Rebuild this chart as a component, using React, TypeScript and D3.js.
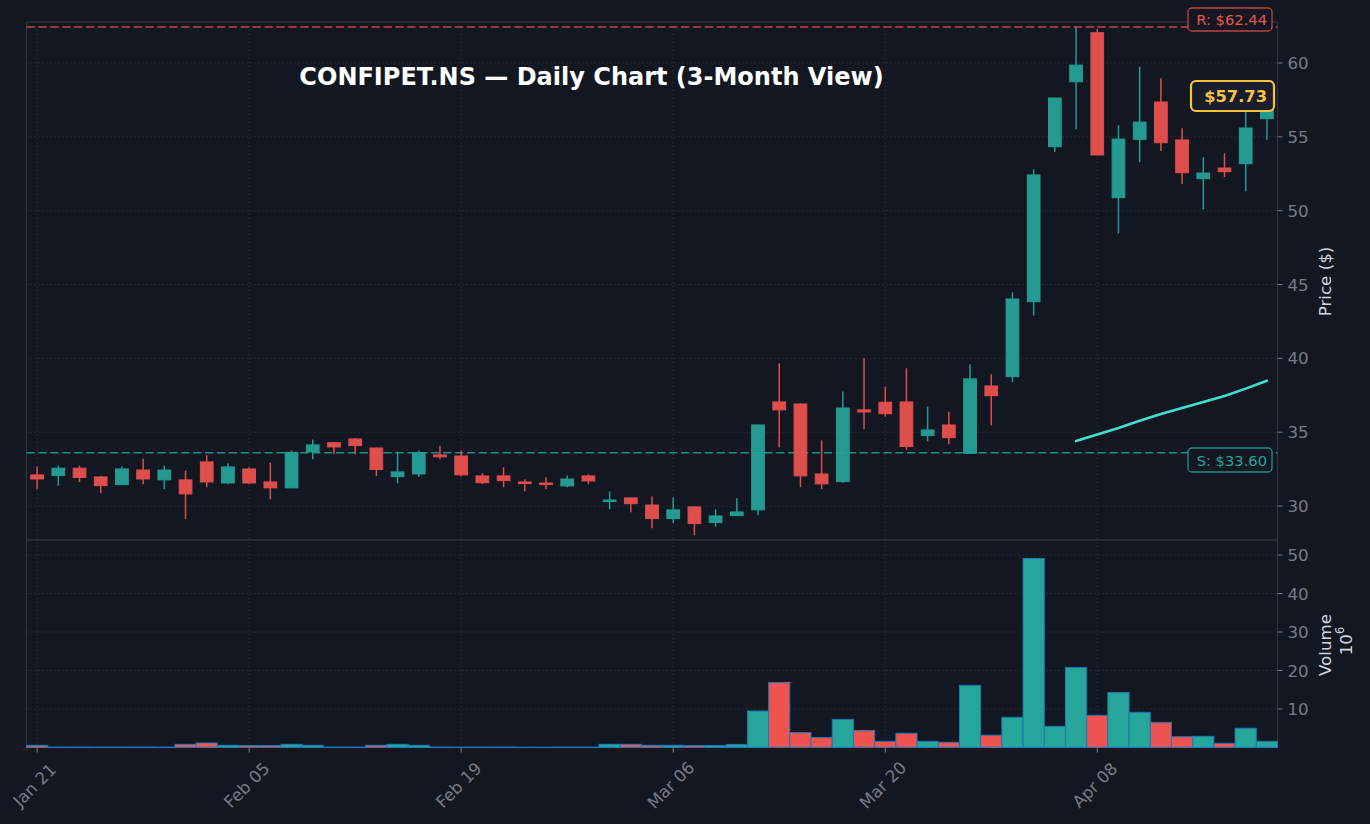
import React from "react";
import * as d3 from "d3";

const opens = [32.11, 32.06, 32.56, 31.97, 31.45, 32.44, 31.77, 31.77, 32.99, 31.56, 32.51, 31.63, 31.23, 33.66, 34.29, 34.54, 33.93, 31.99, 32.17, 33.46, 33.39, 32.04, 32.04, 31.63, 31.56, 31.36, 32.04, 30.30, 30.55, 30.07, 29.15, 29.94, 28.88, 29.35, 29.74, 37.05, 36.91, 32.17, 31.65, 36.51, 37.03, 37.05, 34.77, 35.49, 33.57, 38.13, 38.76, 43.84, 54.33, 58.73, 62.05, 50.88, 54.83, 57.36, 54.79, 52.17, 52.89, 53.18, 56.23];
const highs = [32.67, 32.74, 32.74, 32.04, 32.67, 33.21, 32.74, 32.40, 33.44, 32.90, 32.62, 32.94, 33.75, 34.50, 34.33, 34.60, 33.95, 33.69, 33.75, 34.09, 33.75, 32.22, 32.63, 31.81, 31.95, 32.06, 32.15, 30.98, 30.58, 30.64, 30.60, 29.96, 29.78, 30.53, 35.50, 39.67, 36.95, 34.45, 37.75, 40.00, 38.08, 39.33, 36.73, 36.39, 39.60, 38.92, 44.48, 52.80, 57.65, 62.46, 62.30, 55.78, 59.75, 58.96, 55.58, 53.62, 53.89, 56.70, 57.90];
const lows = [31.14, 31.38, 31.62, 30.87, 31.45, 31.48, 31.14, 29.11, 31.27, 31.48, 31.48, 30.46, 31.23, 33.17, 33.51, 33.51, 32.02, 31.54, 31.99, 33.17, 32.00, 31.48, 31.27, 31.00, 31.14, 31.27, 31.48, 29.78, 29.58, 28.50, 28.83, 28.02, 28.60, 29.35, 29.38, 33.98, 31.27, 31.14, 31.60, 35.20, 36.05, 33.80, 34.39, 34.18, 33.55, 35.47, 38.38, 42.89, 53.99, 55.51, 53.77, 48.47, 53.28, 54.04, 51.81, 50.09, 52.28, 51.31, 54.79];
const closes = [31.83, 32.56, 31.93, 31.38, 32.51, 31.83, 32.44, 30.82, 31.63, 32.65, 31.56, 31.23, 33.64, 34.14, 34.00, 34.09, 32.47, 32.31, 33.62, 33.33, 32.11, 31.58, 31.72, 31.52, 31.45, 31.83, 31.70, 30.41, 30.16, 29.15, 29.74, 28.81, 29.33, 29.60, 35.49, 36.51, 32.04, 31.50, 36.64, 36.37, 36.25, 34.03, 35.15, 34.63, 38.61, 37.47, 44.02, 52.42, 57.63, 59.86, 53.77, 54.85, 56.00, 54.60, 52.57, 52.55, 52.64, 55.60, 57.73];
// volume in millions
const volumes = [0.57, 0.12, 0.12, 0.1, 0.1, 0.12, 0.1, 0.83, 1.17, 0.57, 0.5, 0.5, 0.83, 0.57, 0.1, 0.1, 0.57, 0.83, 0.57, 0.12, 0.1, 0.1, 0.12, 0.08, 0.08, 0.1, 0.1, 0.83, 0.83, 0.57, 0.57, 0.5, 0.5, 0.8, 9.48, 16.9, 3.9, 2.6, 7.3, 4.45, 1.6, 3.7, 1.6, 1.35, 16.15, 3.2, 7.84, 49.1, 5.5, 20.8, 8.36, 14.3, 9.14, 6.55, 2.8, 2.9, 1.1, 5.0, 1.6];
// 50-day moving average, available from bar 49
const smaStart = 49;
const sma50 = [34.40, 34.84, 35.28, 35.77, 36.23, 36.63, 37.04, 37.45, 37.95, 38.48];

const tickIndex = [0, 10, 20, 30, 40, 50];
const tickLabels = ["Jan 21", "Feb 05", "Feb 19", "Mar 06", "Mar 20", "Apr 08"];
const priceTicks = [30, 35, 40, 45, 50, 55, 60];
const volumeTicks = [10, 20, 30, 40, 50];

const resistance = 62.44;
const support = 33.6;
const lastPrice = 57.73;
const title = "CONFIPET.NS — Daily Chart (3-Month View)";

const BG = "#131722";
const UP = "#26a69a";
const DOWN = "#ef5350";
const GRID = "#363a45";
const SPINE = "#2f333e";
const TICKC = "#787b86";
const LABELC = "#d1d4dc";
const FONT = "DejaVu Sans, Liberation Sans, sans-serif";
const FS = 16.7;

export default function App() {
  const W = 1370, H = 824;
  const left = 26.5, right = 1277.5;
  const pTop = 22, pBot = 540, vTop = 540, vBot = 747.5;

  const x = d3.scaleLinear().domain([-0.5, 58.5]).range([left, right]);
  const y = d3.scaleLinear().domain([27.7, 62.776]).range([pBot, pTop]);
  const yv = d3.scaleLinear().domain([0, 53.9]).range([vBot, vTop]);
  const step = x(1) - x(0);
  const bodyW = step * 0.6;

  const smaLine = d3
    .line<number>()
    .x((_, i) => x(smaStart + i))
    .y((d) => y(d))
    .curve(d3.curveLinear);

  return (
    <svg
      width={W}
      height={H}
      style={{ position: "absolute", left: 0, top: 0, background: BG }}
      fontFamily={FONT}
    >
      <rect x={0} y={0} width={W} height={H} fill={BG} />

      {/* grid */}
      {tickIndex.map((t) => (
        <line key={"vg" + t} x1={x(t)} x2={x(t)} y1={pTop} y2={vBot} stroke={GRID} strokeWidth={1} strokeDasharray="1,3" />
      ))}
      {priceTicks.map((p) => (
        <line key={"pg" + p} x1={left} x2={right} y1={y(p)} y2={y(p)} stroke={GRID} strokeWidth={1} strokeDasharray="1,3" />
      ))}
      {volumeTicks.map((v) => (
        <line key={"vgh" + v} x1={left} x2={right} y1={yv(v)} y2={yv(v)} stroke={GRID} strokeWidth={1} strokeDasharray="1,3" />
      ))}

      {/* spines */}
      <rect x={left} y={pTop} width={right - left} height={pBot - pTop} fill="none" stroke={SPINE} strokeWidth={1.2} />
      <rect x={left} y={vTop} width={right - left} height={vBot - vTop} fill="none" stroke={SPINE} strokeWidth={1.2} />

      {/* support / resistance */}
      <line x1={left} x2={right} y1={y(resistance)} y2={y(resistance)} stroke={DOWN} strokeOpacity={0.8} strokeWidth={1.5} strokeDasharray="8.3,3.6" />
      <line x1={left} x2={right} y1={y(support)} y2={y(support)} stroke={UP} strokeOpacity={0.85} strokeWidth={1.5} strokeDasharray="8.3,3.6" />

      {/* candles */}
      {opens.map((o, i) => {
        const c = closes[i];
        const up = c >= o;
        const col = up ? UP : DOWN;
        const yTop = y(Math.max(o, c));
        const yBot = y(Math.min(o, c));
        return (
          <g key={"c" + i} opacity={0.92}>
            <line x1={x(i)} x2={x(i)} y1={y(highs[i])} y2={y(lows[i])} stroke={col} strokeWidth={1.5} />
            <rect x={x(i) - bodyW / 2} y={yTop} width={bodyW} height={Math.max(1, yBot - yTop)} fill={col} stroke={col} strokeWidth={1} />
          </g>
        );
      })}

      {/* SMA */}
      <path d={smaLine(sma50) || ""} fill="none" stroke="#40e0d0" strokeWidth={2.6} strokeLinecap="round" />

      {/* volume */}
      {volumes.map((v, i) => {
        const up = closes[i] >= opens[i];
        return (
          <rect
            key={"v" + i}
            x={x(i) - step / 2}
            y={yv(v)}
            width={step}
            height={vBot - yv(v)}
            fill={up ? UP : DOWN}
            stroke="#1f77b4"
            strokeWidth={1}
          />
        );
      })}

      {/* price axis (right) */}
      {priceTicks.map((p) => (
        <g key={"pt" + p}>
          <line x1={right} x2={right + 5} y1={y(p)} y2={y(p)} stroke={TICKC} strokeWidth={1} />
          <text x={right + 10} y={y(p)} dominantBaseline="central" fontSize={FS} fill={TICKC}>
            {p}
          </text>
        </g>
      ))}
      <text transform={`translate(1325,281.5) rotate(-90)`} textAnchor="middle" dominantBaseline="central" fontSize={FS} fill={LABELC}>
        Price ($)
      </text>

      {/* volume axis (right) */}
      {volumeTicks.map((v) => (
        <g key={"vt" + v}>
          <line x1={right} x2={right + 5} y1={yv(v)} y2={yv(v)} stroke={TICKC} strokeWidth={1} />
          <text x={right + 10} y={yv(v)} dominantBaseline="central" fontSize={FS} fill={TICKC}>
            {v}
          </text>
        </g>
      ))}
      <text transform={`translate(1325,645) rotate(-90)`} textAnchor="middle" dominantBaseline="central" fontSize={FS} fill={LABELC}>
        Volume
      </text>
      <text transform={`translate(1346,641) rotate(-90)`} textAnchor="middle" dominantBaseline="central" fontSize={FS} fill={LABELC}>
        10<tspan fontSize={11.5} dy={-6}>6</tspan>
      </text>

      {/* x axis */}
      {tickIndex.map((t, k) => (
        <g key={"xt" + t}>
          <line x1={x(t)} x2={x(t)} y1={vBot} y2={vBot + 5} stroke={TICKC} strokeWidth={1} />
          <text transform={`translate(${x(t) - 2.5},785) rotate(-45)`} textAnchor="middle" dominantBaseline="central" fontSize={FS} fill={TICKC}>
            {tickLabels[k]}
          </text>
        </g>
      ))}

      {/* title */}
      <text x={591.5} y={84.5} textAnchor="middle" fontSize={24} fontWeight="bold" fill="#ffffff">
        {title}
      </text>

      {/* labels */}
      <rect x={1188} y={8} width={84} height={23} rx={4} fill={BG} stroke={DOWN} strokeOpacity={0.75} strokeWidth={1.3} />
      <text x={1267} y={19.5} textAnchor="end" dominantBaseline="central" fontSize={14.7} fill={DOWN}>
        {`R: $${resistance.toFixed(2)}`}
      </text>
      <rect x={1188} y={448} width={84} height={24} rx={4} fill={BG} stroke={UP} strokeOpacity={0.85} strokeWidth={1.3} />
      <text x={1267} y={460} textAnchor="end" dominantBaseline="central" fontSize={14.7} fill={UP}>
        {`S: $${support.toFixed(2)}`}
      </text>
      <rect x={1191} y={81} width={83} height={30} rx={5} fill="#1a1e2b" stroke="#f6c343" strokeWidth={2.2} />
      <text x={1267} y={96.5} textAnchor="end" dominantBaseline="central" fontSize={16.3} fontWeight="bold" fill="#f6c343">
        {`$${lastPrice.toFixed(2)}`}
      </text>
    </svg>
  );
}
